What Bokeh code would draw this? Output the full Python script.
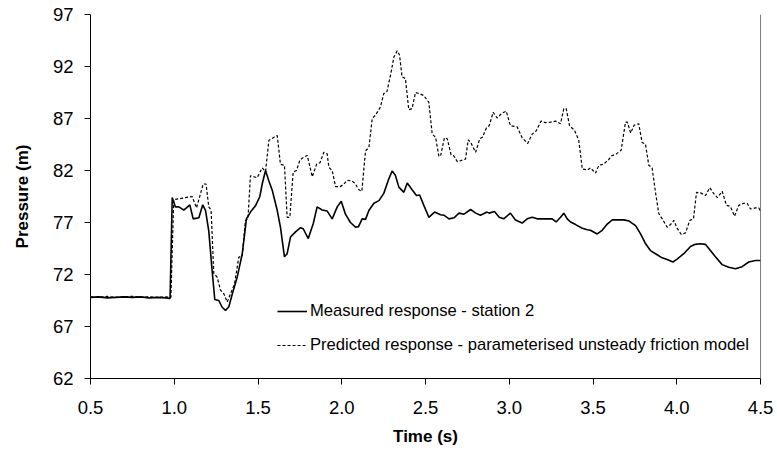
from bokeh.plotting import figure
from bokeh.models import FixedTicker, Legend, LegendItem, Span, NumeralTickFormatter
from bokeh.embed import file_html
from bokeh.resources import INLINE

# Measured response - station 2
t_meas = [0.5, 0.55, 0.6, 0.65, 0.7, 0.75, 0.8, 0.85, 0.9, 0.95, 0.975, 0.988, 1.007, 1.027,
          1.057, 1.093, 1.113, 1.147, 1.17, 1.187, 1.206, 1.226, 1.242, 1.266, 1.286, 1.306,
          1.326, 1.346, 1.376, 1.406, 1.431, 1.455, 1.485, 1.511, 1.525, 1.545, 1.565, 1.585,
          1.615, 1.634, 1.658, 1.674, 1.694, 1.724, 1.754, 1.77, 1.8, 1.83, 1.853, 1.883, 1.913,
          1.943, 1.973, 1.997, 2.022, 2.052, 2.082, 2.1, 2.122, 2.142, 2.162, 2.192, 2.222,
          2.251, 2.281, 2.301, 2.32, 2.341, 2.371, 2.391, 2.42, 2.446, 2.465, 2.49, 2.52,
          2.554, 2.59, 2.61, 2.64, 2.67, 2.7, 2.73, 2.769, 2.8, 2.828, 2.868, 2.88, 2.912,
          2.94, 2.967, 3.007, 3.037, 3.077, 3.107, 3.137, 3.167, 3.206, 3.256, 3.28, 3.306,
          3.326, 3.346, 3.366, 3.396, 3.436, 3.466, 3.485, 3.525, 3.555, 3.585, 3.615, 3.645,
          3.685, 3.714, 3.754, 3.784, 3.814, 3.843, 3.873, 3.913, 3.943, 3.977, 4.0, 4.042,
          4.082, 4.11, 4.142, 4.171, 4.201, 4.231, 4.271, 4.31, 4.351, 4.39, 4.43, 4.47, 4.5]
p_meas = [69.8, 69.85, 69.75, 69.8, 69.85, 69.8, 69.85, 69.75, 69.8, 69.75, 69.7, 79.4, 78.5, 78.5,
          78.2, 78.7, 77.35, 77.45, 78.7, 78.15, 76.2, 72.4, 69.6, 69.5, 68.85, 68.55,
          68.9, 70.1, 71.75, 74.0, 77.35, 78.0, 78.6, 79.5, 80.7, 82.0, 81.0, 80.1,
          78.15, 76.55, 73.7, 74.0, 75.6, 76.1, 76.5, 76.4, 75.45, 76.9, 78.5, 78.2, 78.1,
          77.35, 78.5, 79.05, 77.8, 77.0, 76.55, 76.6, 77.35, 77.3, 78.15, 78.85, 79.1,
          79.8, 81.2, 81.95, 81.55, 80.4, 79.9, 80.8, 80.15, 79.6, 79.65, 78.65, 77.5,
          78.0, 77.75, 77.7, 77.35, 77.45, 77.9, 77.8, 78.25, 77.9, 77.7, 78.0, 77.9, 78.05,
          77.5, 77.35, 77.9, 77.25, 76.95, 77.35, 77.5, 77.35, 77.35, 77.35, 77.05, 77.5,
          77.9, 77.35, 77.05, 76.8, 76.45, 76.3, 76.25, 75.9, 76.25, 76.85, 77.25, 77.25,
          77.25, 77.15, 76.7, 75.9, 74.95, 74.3, 74.0, 73.6, 73.45, 73.2, 73.45, 74.0,
          74.7, 74.9, 74.95, 74.9, 74.3, 73.7, 72.95, 72.7, 72.55, 72.75, 73.2, 73.35, 73.35]

# Predicted response - parameterised unsteady friction model
t_pred = [0.5, 0.55, 0.6, 0.65, 0.7, 0.75, 0.8, 0.85, 0.9, 0.95, 0.98, 0.997, 1.107, 1.133,
          1.173, 1.19, 1.206, 1.22, 1.236, 1.256, 1.276, 1.296, 1.316, 1.336, 1.36, 1.385,
          1.406, 1.425, 1.44, 1.455, 1.495, 1.525, 1.545, 1.565, 1.595, 1.615, 1.634, 1.658,
          1.674, 1.69, 1.71, 1.73, 1.75, 1.774, 1.794, 1.824, 1.85, 1.87, 1.893, 1.913, 1.923,
          1.943, 1.963, 1.99, 2.01, 2.032, 2.06, 2.08, 2.102, 2.12, 2.142, 2.162, 2.182, 2.2,
          2.231, 2.251, 2.27, 2.291, 2.311, 2.331, 2.345, 2.36, 2.38, 2.4, 2.42, 2.44, 2.47,
          2.49, 2.52, 2.54, 2.56, 2.58, 2.59, 2.613, 2.63, 2.653, 2.67, 2.69, 2.71, 2.739,
          2.755, 2.77, 2.799, 2.824, 2.84, 2.864, 2.88, 2.904, 2.928, 2.955, 2.982, 3.007,
          3.047, 3.077, 3.11, 3.137, 3.16, 3.19, 3.216, 3.246, 3.276, 3.306, 3.326, 3.34,
          3.36, 3.39, 3.415, 3.436, 3.466, 3.485, 3.515, 3.535, 3.56, 3.589, 3.61, 3.64,
          3.668, 3.694, 3.705, 3.725, 3.745, 3.773, 3.793, 3.813, 3.833, 3.853, 3.873, 3.893,
          3.913, 3.943, 3.963, 3.983, 4.0, 4.027, 4.052, 4.078, 4.1, 4.118, 4.142, 4.172,
          4.197, 4.22, 4.243, 4.271, 4.297, 4.32, 4.345, 4.37, 4.4, 4.42, 4.44, 4.47, 4.49, 4.5]
p_pred = [69.85, 69.8, 69.9, 69.8, 69.85, 69.9, 69.8, 69.85, 69.8, 69.85, 69.8, 79.2, 79.5, 78.4,
          80.7, 80.7, 78.5, 78.2, 72.1, 71.75, 70.5, 70.15, 69.35, 70.15, 71.1, 73.65,
          73.8, 77.2, 77.35, 81.5, 81.3, 82.25, 81.9, 84.9, 85.2, 85.35, 82.6, 82.5,
          77.5, 77.5, 81.85, 82.0, 83.0, 83.3, 83.45, 81.4, 82.6, 82.75, 83.75, 83.6, 82.3,
          82.0, 80.45, 80.45, 80.65, 81.05, 81.0, 80.75, 80.15, 80.0, 83.9, 84.2, 87.0, 87.3,
          88.1, 89.4, 89.6, 91.15, 92.9, 93.5, 93.1, 91.0, 90.85, 87.85, 87.95, 89.5, 89.35,
          89.2, 88.55, 85.5, 85.2, 83.35, 83.4, 85.15, 85.05, 83.5, 83.4, 82.85, 82.95, 83.1,
          84.95, 84.7, 83.75, 85.05, 85.2, 86.1, 86.3, 87.6, 87.05, 87.5, 87.7, 86.3,
          86.2, 85.15, 84.6, 85.5, 85.8, 86.75, 86.6, 86.65, 86.75, 86.5, 87.95, 87.95,
          86.3, 85.85, 84.9, 82.15, 82.05, 82.25, 81.75, 82.5, 82.6, 82.95, 83.4, 83.6,
          83.95, 86.65, 86.65, 85.6, 86.35, 86.5, 84.7, 84.55, 82.5, 82.25, 79.9, 77.85,
          77.35, 76.55, 76.8, 77.2, 76.5, 75.85, 76.0, 77.2, 77.35, 79.9, 79.85, 79.6,
          80.35, 79.8, 79.4, 80.0, 78.65, 78.55, 77.6, 78.65, 78.85, 78.85, 78.3, 78.4, 78.4, 78.1]

x_ticks = [0.5, 1.0, 1.5, 2.0, 2.5, 3.0, 3.5, 4.0, 4.5]
y_ticks = [62, 67, 72, 77, 82, 87, 92, 97]

FONT = "Liberation Sans"

p = figure(width=777, height=452, output_backend="svg", toolbar_location=None,
           x_range=(0.5, 4.5), y_range=(62, 97))
p.min_border_left = 90
p.min_border_right = 17
p.min_border_top = 14
p.min_border_bottom = 74
p.outline_line_color = None
p.background_fill_color = "white"
p.border_fill_color = "white"
p.xgrid.visible = False
p.ygrid.visible = False

r1 = p.line(t_meas, p_meas, line_color="black", line_width=1.6)
r2 = p.line(t_pred, p_pred, line_color="black", line_width=1.2, line_dash="3 2")

p.add_layout(Span(location=4.5, dimension="height", line_color="black", line_width=1))

for ax in (p.xaxis[0], p.yaxis[0]):
    ax.axis_line_color = "black"
    ax.axis_line_width = 1
    ax.major_tick_line_color = "black"
    ax.major_tick_out = 6
    ax.major_tick_in = 0
    ax.minor_tick_line_color = None
    ax.major_label_text_font = FONT
    ax.major_label_text_font_size = "18.5px"
    ax.major_label_text_color = "black"
    ax.axis_label_text_font = FONT
    ax.axis_label_text_font_style = "bold"
    ax.axis_label_text_font_size = "17px"
    ax.axis_label_text_color = "black"

p.xaxis.ticker = FixedTicker(ticks=x_ticks)
p.xaxis.formatter = NumeralTickFormatter(format="0.0")
p.yaxis.ticker = FixedTicker(ticks=y_ticks)
p.xaxis.axis_label = "Time (s)"
p.yaxis.axis_label = "Pressure (m)"
p.xaxis.major_label_standoff = 16
p.xaxis.axis_label_standoff = 10
p.yaxis.major_label_standoff = 11
p.yaxis.axis_label_standoff = 18

legend = Legend(items=[
    LegendItem(label="Measured response - station 2", renderers=[r1]),
    LegendItem(label="Predicted response - parameterised unsteady friction model", renderers=[r2]),
], location=(187, 23))
legend.border_line_color = None
legend.background_fill_alpha = 0
legend.padding = 0
legend.margin = 0
legend.spacing = 14
legend.glyph_width = 30
legend.glyph_height = 20
legend.label_height = 20
legend.label_standoff = 3
legend.label_text_font = FONT
legend.label_text_font_size = "16.6px"
legend.label_text_color = "black"
p.add_layout(legend)

open("out.html", "w").write(file_html(p, INLINE))
